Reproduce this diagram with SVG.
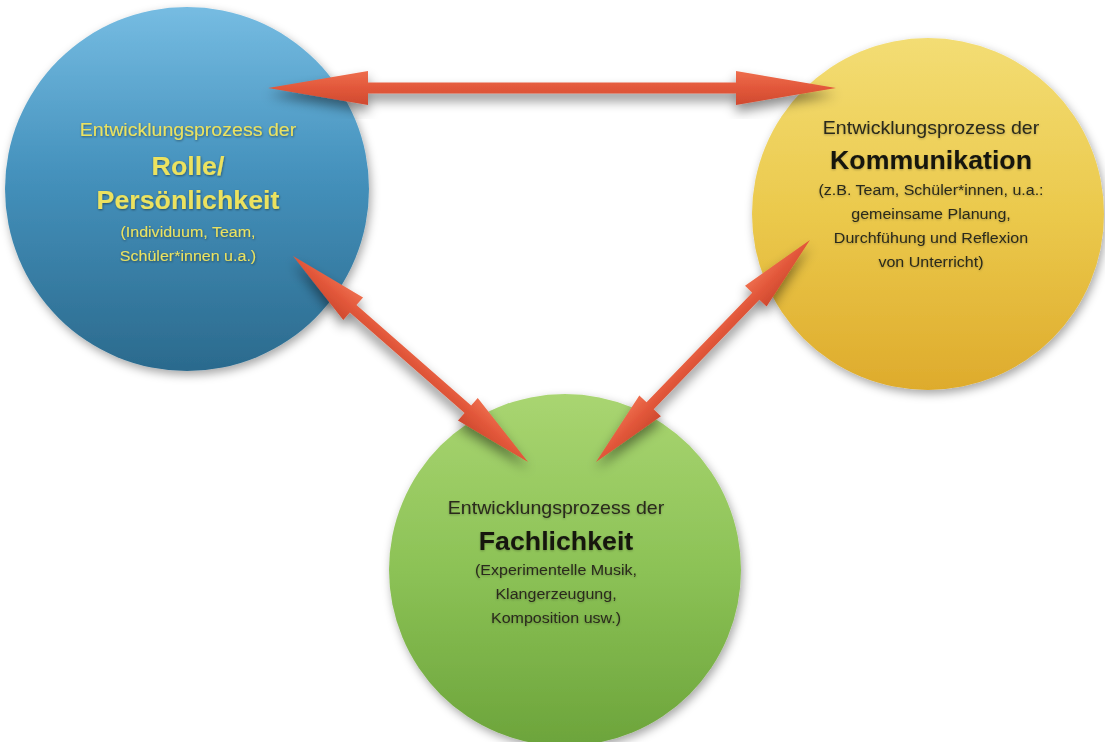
<svg xmlns="http://www.w3.org/2000/svg" width="1105" height="742" viewBox="0 0 1105 742">
  <defs>
    <linearGradient id="gBlue" x1="0" y1="0" x2="0" y2="1">
      <stop offset="0" stop-color="#76bce2"/>
      <stop offset="0.45" stop-color="#4592bd"/>
      <stop offset="1" stop-color="#2b6a8d"/>
    </linearGradient>
    <linearGradient id="gYellow" x1="0" y1="0" x2="0" y2="1">
      <stop offset="0" stop-color="#f3dd74"/>
      <stop offset="0.5" stop-color="#ebc94c"/>
      <stop offset="1" stop-color="#deab2c"/>
    </linearGradient>
    <linearGradient id="gGreen" x1="0" y1="0" x2="0" y2="1">
      <stop offset="0" stop-color="#a9d571"/>
      <stop offset="0.5" stop-color="#8cc256"/>
      <stop offset="1" stop-color="#6ca43b"/>
    </linearGradient>
    <linearGradient id="gArrow" x1="0" y1="0" x2="0" y2="1">
      <stop offset="0" stop-color="#ee6e4e"/>
      <stop offset="0.5" stop-color="#e2573a"/>
      <stop offset="1" stop-color="#cf4a30"/>
    </linearGradient>
    <filter id="circleShadow" x="-20%" y="-20%" width="140%" height="140%">
      <feDropShadow dx="2" dy="4" stdDeviation="5" flood-color="#000" flood-opacity="0.35"/>
    </filter>
    <filter id="arrowShadow" x="-20%" y="-40%" width="140%" height="180%">
      <feDropShadow dx="0" dy="7" stdDeviation="6" flood-color="#000" flood-opacity="0.45"/>
    </filter>
    <filter id="textShadow" x="-10%" y="-30%" width="120%" height="160%">
      <feDropShadow dx="0.5" dy="1" stdDeviation="0.8" flood-color="#000" flood-opacity="0.45"/>
    </filter>
    <filter id="textGlow" x="-10%" y="-30%" width="120%" height="160%">
      <feDropShadow dx="0" dy="1" stdDeviation="1" flood-color="#000" flood-opacity="0.25"/>
    </filter>
  </defs>
  <style>
    text { font-family: "Liberation Sans", Arial, Helvetica, sans-serif; text-anchor: middle; }
    .lead { font-size: 18.3px; }
    .title { font-size: 25px; font-weight: bold; }
    .sub { font-size: 15px; }
    .onBlue { fill: #ece25e; }
    .onLight { fill: #2a2a1c; }
    .onLight.title { fill: #151510; }
    .arrow { fill: url(#gArrow); }
  </style>

  <rect width="1105" height="742" fill="#ffffff"/>

  <!-- Rolle / Persönlichkeit -->
  <g id="node-rolle">
    <circle cx="187" cy="189" r="182" fill="url(#gBlue)" filter="url(#circleShadow)"/>
    <g transform="translate(188 0) scale(1.07 1)" filter="url(#textShadow)">
      <text class="lead onBlue" x="0" y="136">Entwicklungsprozess der</text>
      <text class="title onBlue" x="0" y="175">Rolle/</text>
      <text class="title onBlue" x="0" y="209">Persönlichkeit</text>
      <text class="sub onBlue" x="0" y="237">(Individuum, Team,</text>
      <text class="sub onBlue" x="0" y="261">Schüler*innen u.a.)</text>
    </g>
  </g>

  <!-- Kommunikation -->
  <g id="node-kommunikation">
    <circle cx="928" cy="214" r="176" fill="url(#gYellow)" filter="url(#circleShadow)"/>
    <g transform="translate(931 0) scale(1.07 1)" filter="url(#textGlow)">
      <text class="lead onLight" x="0" y="134">Entwicklungsprozess der</text>
      <text class="title onLight" x="0" y="169">Kommunikation</text>
      <text class="sub onLight" x="0" y="195">(z.B. Team, Schüler*innen, u.a.:</text>
      <text class="sub onLight" x="0" y="219">gemeinsame Planung,</text>
      <text class="sub onLight" x="0" y="243">Durchfühung und Reflexion</text>
      <text class="sub onLight" x="0" y="267">von Unterricht)</text>
    </g>
  </g>

  <!-- Fachlichkeit -->
  <g id="node-fachlichkeit">
    <circle cx="565" cy="570" r="176" fill="url(#gGreen)" filter="url(#circleShadow)"/>
    <g transform="translate(556 0) scale(1.07 1)" filter="url(#textGlow)">
      <text class="lead onLight" x="0" y="514">Entwicklungsprozess der</text>
      <text class="title onLight" x="0" y="550">Fachlichkeit</text>
      <text class="sub onLight" x="0" y="575">(Experimentelle Musik,</text>
      <text class="sub onLight" x="0" y="599">Klangerzeugung,</text>
      <text class="sub onLight" x="0" y="623">Komposition usw.)</text>
    </g>
  </g>

  <!-- double-headed connectors -->
  <g id="connectors">
    <!-- Rolle <-> Kommunikation -->
    <g filter="url(#arrowShadow)">
      <polygon class="arrow" points="268,88 368,71 368,82.5 736,82.5 736,71 836,88 736,105 736,93.5 368,93.5 368,105"/>
    </g>
    <!-- Rolle <-> Fachlichkeit -->
    <g filter="url(#arrowShadow)">
      <g transform="translate(293 256) rotate(41.23)">
        <polygon class="arrow" points="0,0 80,-15 80,-5 232.5,-5 232.5,-15 312.5,0 232.5,15 232.5,5 80,5 80,15"/>
      </g>
    </g>
    <!-- Fachlichkeit <-> Kommunikation -->
    <g filter="url(#arrowShadow)">
      <g transform="translate(596 462) rotate(-46.06)">
        <polygon class="arrow" points="0,0 78,-15 78,-5 230.3,-5 230.3,-15 308.3,0 230.3,15 230.3,5 78,5 78,15"/>
      </g>
    </g>
  </g>
</svg>
